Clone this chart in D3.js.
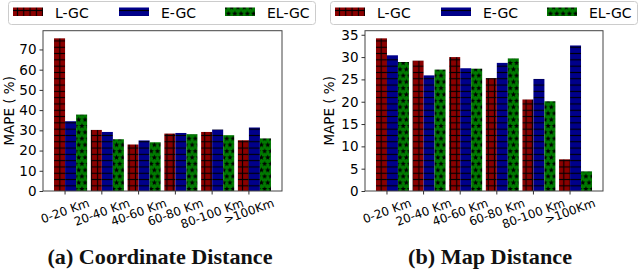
<!DOCTYPE html>
<html>
<head>
<meta charset="utf-8">
<script src="https://cdn.jsdelivr.net/npm/d3@7"></script>
<style>
  body { margin: 0; background: #fff; }
  svg { display: block; font-family: "DejaVu Sans", sans-serif; }
</style>
</head>
<body>
<svg id="chart" width="640" height="269"></svg>
<script>
// Categories and series
const categories = ['0-20 Km', '20-40 Km', '40-60 Km', '60-80 Km', '80-100 Km', '>100Km'];
const seriesNames = ['L-GC', 'E-GC', 'EL-GC'];

// (a) Coordinate distance, MAPE %
const coordL = [75.5, 30.2, 23.0, 28.4, 29.2, 25.1];
const coordE = [34.5, 29.2, 25.0, 28.7, 30.4, 31.4];
const coordEL = [37.8, 25.6, 24.1, 28.1, 27.6, 26.0];

// (b) Map distance, MAPE %
const mapL = [34.2, 29.2, 30.0, 25.3, 20.5, 7.1];
const mapE = [30.4, 25.9, 27.5, 28.7, 25.1, 32.6];
const mapEL = [28.9, 27.2, 27.4, 29.7, 20.1, 4.4];

const coordTicks = [0, 10, 20, 30, 40, 50, 60, 70];
const mapTicks = [0, 5, 10, 15, 20, 25, 30, 35];

const captions = ['(a) Coordinate Distance', '(b) Map Distance'];

const svg = d3.select('#chart');
const defs = svg.append('defs');

// Hatch patterns, anchored to the page like matplotlib hatches
const step = 6.3;
const colors = ['#8b0000', '#00008b', '#007a00'];

// '+' hatch
const pPlus = defs.append('pattern')
  .attr('id', 'hatch0')
  .attr('patternUnits', 'userSpaceOnUse')
  .attr('width', step).attr('height', step);
pPlus.append('rect').attr('width', step).attr('height', step).attr('fill', colors[0]);
pPlus.append('line').attr('x1', 0).attr('x2', step).attr('y1', step / 2).attr('y2', step / 2)
  .attr('stroke', '#000').attr('stroke-width', 1.1);
pPlus.append('line').attr('y1', 0).attr('y2', step).attr('x1', step / 2).attr('x2', step / 2)
  .attr('stroke', '#000').attr('stroke-width', 1.1);

// '-' hatch
const pMinus = defs.append('pattern')
  .attr('id', 'hatch1')
  .attr('patternUnits', 'userSpaceOnUse')
  .attr('width', step).attr('height', step);
pMinus.append('rect').attr('width', step).attr('height', step).attr('fill', colors[1]);
pMinus.append('line').attr('x1', 0).attr('x2', step).attr('y1', step / 2).attr('y2', step / 2)
  .attr('stroke', '#000').attr('stroke-width', 1.1);

// '*' hatch
function starPath(cx, cy, ro, ri) {
  const pts = [];
  for (let k = 0; k < 10; k++) {
    const r = k % 2 === 0 ? ro : ri;
    const a = -Math.PI / 2 + k * Math.PI / 5;
    pts.push([cx + r * Math.cos(a), cy + r * Math.sin(a)]);
  }
  return 'M' + pts.map(p => p.join(',')).join('L') + 'Z';
}
const pStar = defs.append('pattern')
  .attr('id', 'hatch2')
  .attr('patternUnits', 'userSpaceOnUse')
  .attr('width', step).attr('height', step * 2);
pStar.append('rect').attr('width', step).attr('height', step * 2).attr('fill', colors[2]);
[[0, 0], [step, 0], [0, step * 2], [step, step * 2], [step / 2, step]].forEach(([cx, cy]) => {
  pStar.append('path').attr('d', starPath(cx, cy, 2.9, 1.25)).attr('fill', '#000');
});

const panels = [
  { left: 43, right: 282, legendX: 8, ylabelX: 9, data: [coordL, coordE, coordEL], ticks: coordTicks },
  { left: 365, right: 603, legendX: 330, ylabelX: 329, data: [mapL, mapE, mapEL], ticks: mapTicks }
];
const plotTop = 30.7, plotBottom = 191;

panels.forEach((p, pi) => drawPanel(p, pi));

function drawPanel(p, pi) {
  const g = svg.append('g');

  const x = d3.scaleBand()
    .domain(categories)
    .range([p.left, p.right])
    .paddingInner(0.1)
    .paddingOuter(0.3);

  const xs = d3.scaleBand()
    .domain(seriesNames)
    .range([0, x.bandwidth()]);

  const yMax = d3.max(p.data.flat()) * 1.05;
  const y = d3.scaleLinear().domain([0, yMax]).range([plotBottom, plotTop]);

  // Bars
  p.data.forEach((vals, si) => {
    g.selectAll(null)
      .data(vals)
      .enter()
      .append('rect')
      .attr('x', (d, i) => x(categories[i]) + xs(seriesNames[si]))
      .attr('y', d => y(d))
      .attr('width', xs.bandwidth())
      .attr('height', d => y(0) - y(d))
      .attr('fill', `url(#hatch${si})`);
  });

  // Frame
  g.append('rect')
    .attr('x', p.left).attr('y', plotTop)
    .attr('width', p.right - p.left).attr('height', plotBottom - plotTop)
    .attr('fill', 'none').attr('stroke', '#444').attr('stroke-width', 1);

  // Y axis
  const yAxis = g.append('g')
    .attr('transform', `translate(${p.left},0)`)
    .call(d3.axisLeft(y).tickValues(p.ticks).tickSize(3.5).tickPadding(3))
    .style('font-family', '"DejaVu Sans", sans-serif')
    .style('font-size', '13.5px');
  yAxis.select('.domain').remove();
  yAxis.selectAll('.tick line').attr('stroke', '#333');
  yAxis.selectAll('text').attr('fill', '#000');

  // X axis: ticks sit on the L-GC / E-GC boundary
  const xAxis = g.append('g')
    .attr('transform', `translate(${-x.bandwidth() / 6},${plotBottom})`)
    .call(d3.axisBottom(x).tickSize(3.5).tickFormat(''));
  xAxis.select('.domain').remove();
  xAxis.selectAll('.tick line').attr('stroke', '#333');

  const fs = 12;
  const ang = 20 * Math.PI / 180;
  categories.forEach(c => {
    const tx = x(c) + x.bandwidth() / 3;
    const t = g.append('text')
      .attr('text-anchor', 'middle')
      .attr('dy', '0.35em')
      .style('font-size', fs + 'px')
      .attr('fill', '#000')
      .text(c);
    const L = t.node().getComputedTextLength();
    const hb = L * Math.sin(ang) + fs * 1.1 * Math.cos(ang);
    const cy = plotBottom + 5 + hb / 2;
    t.attr('transform', `translate(${tx},${cy}) rotate(-20)`);
  });

  // Y label
  g.append('text')
    .attr('transform', `translate(${p.ylabelX},${(plotTop + plotBottom) / 2}) rotate(-90)`)
    .attr('text-anchor', 'middle')
    .attr('dy', '0.35em')
    .style('font-size', '13.5px')
    .attr('fill', '#000')
    .text('MAPE ( %)');

  // Legend
  const lg = g.append('g').attr('transform', `translate(${p.legendX},1)`);
  lg.append('rect')
    .attr('x', 0.5).attr('y', 0.5)
    .attr('width', 307).attr('height', 23)
    .attr('rx', 3)
    .attr('fill', '#fff').attr('stroke', '#ccc');
  seriesNames.forEach((s, si) => {
    lg.append('rect')
      .attr('x', 5 + si * 106).attr('y', 6.5)
      .attr('width', 30).attr('height', 8.5)
      .attr('fill', `url(#hatch${si})`);
    lg.append('text')
      .attr('x', 47 + si * 106).attr('y', 16.5)
      .style('font-size', '14px')
      .attr('fill', '#000')
      .text(s);
  });

  // Caption
  const cx = pi === 0 ? 160 : 490;
  g.append('text')
    .attr('x', cx).attr('y', 264)
    .attr('text-anchor', 'middle')
    .style('font-family', '"Liberation Serif", serif')
    .style('font-weight', 'bold')
    .style('font-size', '21px')
    .attr('textLength', pi === 0 ? 225 : 164)
    .attr('lengthAdjust', 'spacingAndGlyphs')
    .attr('fill', '#111')
    .text(captions[pi]);
}
</script>
</body>
</html>
